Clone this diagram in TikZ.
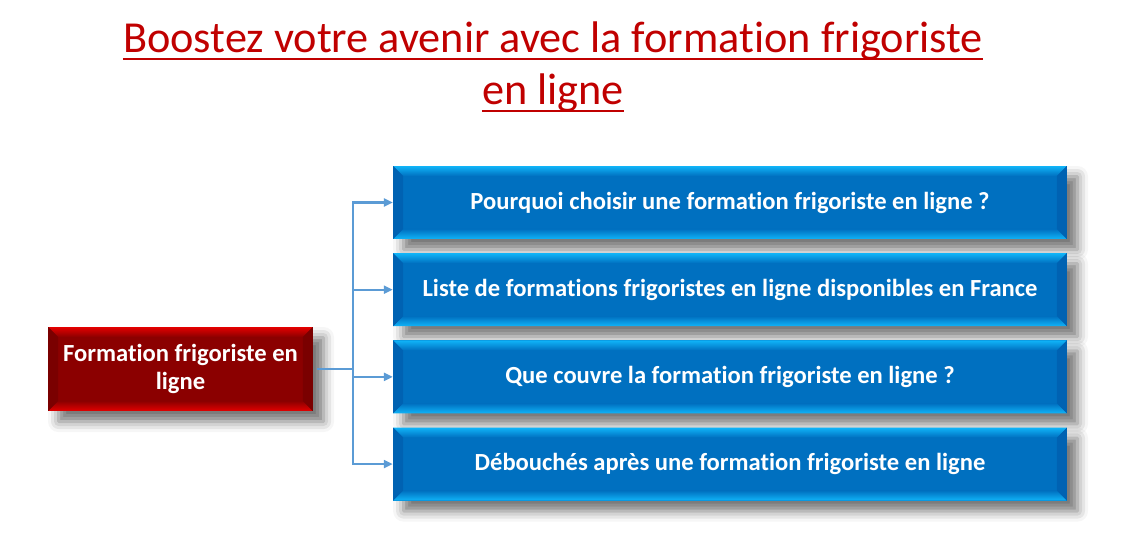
\documentclass[tikz,border=0pt]{standalone}
\usepackage{fontspec}
\setmainfont{Carlito}[Ligatures=NoCommon]
\usepackage{xcolor}
\usetikzlibrary{positioning,calc,arrows.meta,shadows.blur}

\definecolor{titlered}{HTML}{C00000}
\definecolor{boxblue}{HTML}{0070C0}
\definecolor{boxcyan}{HTML}{10B4F8}
\definecolor{boxside}{HTML}{0062B2}
\definecolor{boxred}{HTML}{8B0000}
\definecolor{edgered}{HTML}{E40000}
\definecolor{sidered}{HTML}{7A0000}
\definecolor{linkblue}{HTML}{5B9BD5}

\tikzset{
    bevel/.style n args={3}{path picture={
        \path (path picture bounding box.south west) coordinate (sw)
              (path picture bounding box.north east) coordinate (ne);
        \fill[#2] (sw) rectangle (ne);
        \shade[top color=#1, bottom color=#2] (sw |- ne) -- (ne) -- ++(-10,-10) -- ($(sw |- ne)+(10,-10)$) -- cycle;
        \shade[top color=#2, bottom color=#1] (sw) -- (sw -| ne) -- ++(-10,10) -- ($(sw)+(10,10)$) -- cycle;
        \fill[#3] (sw) -- ++(10,10) -- ($(sw |- ne)+(10,-10)$) -- (sw |- ne) -- cycle;
        \fill[#3] (sw -| ne) -- ++(-10,10) -- ($(ne)+(-10,-10)$) -- (ne) -- cycle;
    }},
    boxshadow/.style={blur shadow={shadow xshift=6pt, shadow yshift=-6pt, shadow blur radius=6pt, shadow opacity=55}},
    topic/.style={boxshadow, bevel={boxcyan}{boxblue}{boxside}, minimum width=13.48cm, minimum height=1.46cm,
        inner sep=0pt, text=white, font=\fontsize{14}{16}\selectfont\bfseries},
    mainbox/.style={boxshadow, bevel={edgered}{boxred}{sidered}, minimum width=5.3cm, minimum height=1.68cm,
        inner sep=0pt, align=center, text=white, font=\fontsize{14}{16}\selectfont\bfseries},
    title/.style={text=titlered, font=\fontsize{25.2}{30}\selectfont, anchor=base, inner xsep=0pt},
    uline/.style={draw=titlered, line width=1.7pt},
    link/.style={draw=linkblue, line width=1.2pt}
}

\begin{document}
\begin{tikzpicture}[x=0.02cm, y=0.02cm, node distance=0.27cm]
    \useasboundingbox (0,0) rectangle (1122,555);

    % Title
    \node[title] (title1) at (553,502) {Boostez votre avenir avec la formation frigoriste};
    \node[title] (title2) at (553,450) {en ligne};
    \draw[uline] ($(title1.base west)+(0,-6)$) -- ($(title1.base east)+(0,-6)$);
    \draw[uline] ($(title2.base west)+(0,-6)$) -- ($(title2.base east)+(0,-6)$);

    % Main box
    \node[mainbox] (main) at (180.5,186) {Formation frigoriste en\\ligne};

    % Topics
    \node[topic] (q1) at (730,352.5) {Pourquoi choisir une formation frigoriste en ligne ?};
    \node[topic, below=of q1] (q2) {Liste de formations frigoristes en ligne disponibles en France};
    \node[topic, below=of q2] (q3) {Que couvre la formation frigoriste en ligne ?};
    \node[topic, below=of q3] (q4) {Débouchés après une formation frigoriste en ligne};

    % Links
    \coordinate (fork) at ($(main.east)+(40,0)$);
    \draw[link, shorten <=2pt] (main) -- (fork);
    \foreach \t in {q1,q2,q3,q4}
        \draw[link, -{Triangle[length=5pt,width=4.5pt]}] (fork) |- (\t.west);
\end{tikzpicture}
\end{document}
